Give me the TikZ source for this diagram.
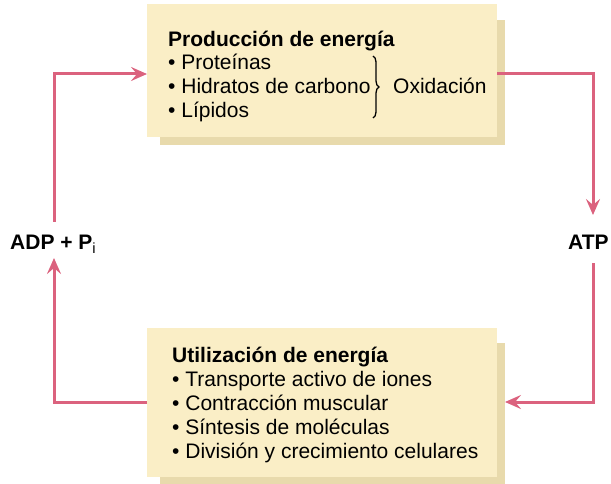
\documentclass[tikz,border=0pt]{standalone}
\usepackage{fontspec}
\setmainfont{Liberation Sans}
\usetikzlibrary{arrows.meta,decorations.pathreplacing}
\definecolor{boxfill}{RGB}{250,238,198}
\definecolor{boxshade}{RGB}{232,218,172}
\definecolor{flow}{RGB}{219,98,126}
\begin{document}
\begin{tikzpicture}[x=1pt,y=-1pt,
  panel/.style={draw=none, fill=boxfill, inner sep=0pt, anchor=north west},
  shade/.style={draw=none, fill=boxshade, inner sep=0pt, anchor=north west},
  flowline/.style={draw=flow, line width=3pt},
  tip/.style={-{Stealth[length=16pt,width=14pt,inset=6pt]}},
  txt/.style={anchor=base west, inner sep=0pt, font=\fontsize{21}{24}\selectfont},
  ttl/.style={anchor=base west, inner sep=0pt, font=\fontsize{21}{24}\selectfont\bfseries}]
\useasboundingbox (0,0) rectangle (611,484);
% boxes
\node[shade, minimum width=345pt, minimum height=125pt] (prodsh) at (160,20) {};
\node[panel, minimum width=350pt, minimum height=133pt] (prod) at (147,4) {};
\node[shade, minimum width=345pt, minimum height=141pt] (utilsh) at (160,343) {};
\node[panel, minimum width=350pt, minimum height=149pt] (util) at (147,328) {};
% top box text
\node[ttl] (t1) at (168,47) {Producción de energía};
\node[txt] (p1) at (168,70) {• Proteínas};
\node[txt] (p2) at (168,94) {• Hidratos de carbono};
\node[txt] (p3) at (168,118) {• Lípidos};
\coordinate (brTop) at (373,56);
\coordinate (brBot) at (373,118);
\draw[line width=1.3pt, decorate, decoration={brace, amplitude=6pt}] (brTop) -- (brBot);
\node[txt] (ox) at (393,94) {Oxidación};
% bottom box text
\node[ttl] (t2) at (172,362) {Utilización de energía};
\node[txt] (u1) at (172,386) {• Transporte activo de iones};
\node[txt] (u2) at (172,410) {• Contracción muscular};
\node[txt] (u3) at (172,434) {• Síntesis de moléculas};
\node[txt] (u4) at (172,458) {• División y crecimiento celulares};
% side labels
\node[ttl] (adp) at (10,250) {ADP + P\textsubscript{\normalfont i}};
\node[ttl] (atp) at (568,250) {ATP};
% connectors
\coordinate (adpTop) at (54,222);
\coordinate (adpBot) at (54,258);
\coordinate (prodIn) at (147,74);
\coordinate (prodOut) at (497,74);
\coordinate (atpTop) at (593,215);
\coordinate (atpBot) at (593,263);
\coordinate (utilIn) at (505,402);
\coordinate (utilOut) at (147,402);
\draw[flowline, tip] (adpTop) |- (prodIn);
\draw[flowline, tip] (prodOut) -| (atpTop);
\draw[flowline, tip] (atpBot) |- (utilIn);
\draw[flowline, tip] (utilOut) -| (adpBot);
\end{tikzpicture}
\end{document}
